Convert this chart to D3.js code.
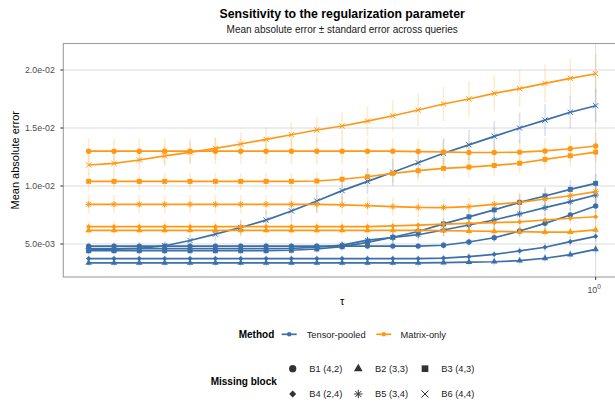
<!DOCTYPE html>
<html>
<head>
<meta charset="utf-8">
<script src="https://cdn.jsdelivr.net/npm/d3@7"></script>
<style>
  body { margin: 0; background: #ffffff; }
  text { font-family: "Liberation Sans", Arial, Helvetica, sans-serif; }
</style>
</head>
<body>
<svg id="chart" width="615" height="402"></svg>
<script>
// ---- data -------------------------------------------------------------
const tau = [0.1585, 0.1738, 0.1905, 0.2089, 0.2291, 0.2512, 0.2754, 0.3020, 0.3311, 0.3631,
             0.3981, 0.4365, 0.4786, 0.5248, 0.5754, 0.6310, 0.6918, 0.7586, 0.8318, 0.9120, 1.0];

const methods = ["Tensor-pooled", "Matrix-only"];
const blocks = ["B1 (4,2)", "B2 (3,3)", "B3 (4,3)", "B4 (2,4)", "B5 (3,4)", "B6 (4,4)"];

// mean absolute error, one row per missing block (B1..B6)
const tensorMean = [
  [0.00482,0.00482,0.00482,0.00482,0.00482,0.00482,0.00482,0.00482,0.00482,0.00482,0.00482,0.00482,0.00482,0.00482,0.00489,0.00517,0.00554,0.00612,0.00678,0.00750,0.00828],
  [0.00337,0.00337,0.00337,0.00337,0.00337,0.00337,0.00337,0.00337,0.00337,0.00337,0.00337,0.00337,0.00337,0.00337,0.00340,0.00344,0.00347,0.00356,0.00377,0.00408,0.00454],
  [0.00442,0.00442,0.00442,0.00442,0.00442,0.00442,0.00442,0.00442,0.00446,0.00457,0.00477,0.00514,0.00558,0.00608,0.00673,0.00734,0.00794,0.00859,0.00914,0.00971,0.01023],
  [0.00374,0.00374,0.00374,0.00374,0.00374,0.00374,0.00374,0.00374,0.00374,0.00374,0.00374,0.00374,0.00374,0.00374,0.00379,0.00391,0.00411,0.00440,0.00472,0.00520,0.00566],
  [0.00460,0.00460,0.00460,0.00460,0.00460,0.00460,0.00460,0.00460,0.00463,0.00472,0.00491,0.00533,0.00556,0.00580,0.00621,0.00664,0.00707,0.00759,0.00813,0.00865,0.00922],
  [0.00452,0.00455,0.00462,0.00485,0.00530,0.00585,0.00642,0.00706,0.00785,0.00870,0.00960,0.01040,0.01118,0.01200,0.01282,0.01355,0.01428,0.01500,0.01568,0.01636,0.01692]
];
const matrixMean = [
  [0.01300,0.01300,0.01300,0.01300,0.01300,0.01300,0.01300,0.01300,0.01300,0.01300,0.01300,0.01300,0.01300,0.01297,0.01294,0.01289,0.01289,0.01292,0.01302,0.01321,0.01345],
  [0.00618,0.00618,0.00618,0.00618,0.00618,0.00618,0.00618,0.00618,0.00618,0.00618,0.00618,0.00618,0.00618,0.00618,0.00615,0.00612,0.00609,0.00606,0.00603,0.00603,0.00621],
  [0.01040,0.01040,0.01040,0.01040,0.01040,0.01040,0.01040,0.01040,0.01040,0.01043,0.01058,0.01080,0.01109,0.01132,0.01152,0.01163,0.01177,0.01196,0.01230,0.01261,0.01292],
  [0.00649,0.00649,0.00649,0.00649,0.00649,0.00649,0.00649,0.00649,0.00649,0.00649,0.00649,0.00650,0.00656,0.00663,0.00672,0.00678,0.00684,0.00690,0.00707,0.00722,0.00735],
  [0.00842,0.00842,0.00842,0.00842,0.00842,0.00842,0.00842,0.00842,0.00842,0.00842,0.00838,0.00831,0.00823,0.00815,0.00814,0.00822,0.00842,0.00859,0.00888,0.00916,0.00951],
  [0.01181,0.01195,0.01224,0.01259,0.01290,0.01325,0.01362,0.01402,0.01442,0.01483,0.01517,0.01560,0.01606,0.01655,0.01707,0.01750,0.01799,0.01839,0.01885,0.01928,0.01968]
];

// standard error across queries
const tensorSE = [
  [0.00030,0.00030,0.00030,0.00030,0.00030,0.00030,0.00030,0.00030,0.00030,0.00030,0.00030,0.00030,0.00031,0.00032,0.00034,0.00037,0.00041,0.00046,0.00051,0.00056,0.00062],
  [0.00030,0.00030,0.00030,0.00030,0.00030,0.00030,0.00030,0.00030,0.00030,0.00030,0.00030,0.00030,0.00030,0.00030,0.00031,0.00032,0.00033,0.00035,0.00037,0.00040,0.00044],
  [0.00032,0.00032,0.00032,0.00032,0.00032,0.00032,0.00032,0.00032,0.00033,0.00035,0.00038,0.00042,0.00047,0.00052,0.00057,0.00062,0.00067,0.00071,0.00075,0.00078,0.00081],
  [0.00030,0.00030,0.00030,0.00030,0.00030,0.00030,0.00030,0.00030,0.00030,0.00030,0.00030,0.00030,0.00030,0.00030,0.00031,0.00032,0.00034,0.00036,0.00039,0.00042,0.00046],
  [0.00032,0.00032,0.00032,0.00032,0.00032,0.00032,0.00032,0.00032,0.00033,0.00035,0.00038,0.00042,0.00046,0.00050,0.00055,0.00060,0.00064,0.00068,0.00072,0.00075,0.00078],
  [0.00035,0.00035,0.00036,0.00040,0.00048,0.00058,0.00068,0.00078,0.00088,0.00097,0.00105,0.00112,0.00118,0.00123,0.00127,0.00130,0.00132,0.00134,0.00136,0.00140,0.00145]
];
const matrixSE = [
  [0.00110,0.00110,0.00110,0.00110,0.00110,0.00110,0.00110,0.00110,0.00110,0.00110,0.00110,0.00110,0.00110,0.00110,0.00110,0.00110,0.00110,0.00111,0.00112,0.00113,0.00115],
  [0.00045,0.00045,0.00045,0.00045,0.00045,0.00045,0.00045,0.00045,0.00045,0.00045,0.00045,0.00045,0.00045,0.00045,0.00045,0.00045,0.00045,0.00045,0.00045,0.00046,0.00047],
  [0.00075,0.00075,0.00075,0.00075,0.00075,0.00075,0.00075,0.00075,0.00075,0.00076,0.00078,0.00080,0.00082,0.00084,0.00086,0.00087,0.00088,0.00089,0.00090,0.00091,0.00092],
  [0.00050,0.00050,0.00050,0.00050,0.00050,0.00050,0.00050,0.00050,0.00050,0.00050,0.00050,0.00050,0.00050,0.00050,0.00051,0.00051,0.00052,0.00052,0.00053,0.00054,0.00055],
  [0.00080,0.00080,0.00080,0.00080,0.00080,0.00080,0.00080,0.00080,0.00080,0.00080,0.00080,0.00080,0.00080,0.00080,0.00080,0.00081,0.00083,0.00085,0.00088,0.00091,0.00094],
  [0.00085,0.00086,0.00088,0.00090,0.00093,0.00097,0.00100,0.00104,0.00108,0.00114,0.00120,0.00127,0.00135,0.00142,0.00148,0.00153,0.00157,0.00160,0.00163,0.00166,0.00169]
];

const yTicks = [0.005, 0.010, 0.015, 0.020];
const yTickLabels = ["5.0e-03", "1.0e-02", "1.5e-02", "2.0e-02"];
const xTicks = [1];
const xTickExponents = ["0"];

// ---- layout -----------------------------------------------------------
const W = 615, H = 402;
const panel = { left: 63.3, right: 621, top: 43.5, bottom: 277 };
const colors = { "Tensor-pooled": "#3B6FA8", "Matrix-only": "#FF9914" };
const shapeOf = ["circle", "triangle", "square", "diamond", "asterisk", "cross"];

const svg = d3.select("#chart");
svg.append("rect").attr("width", W).attr("height", H).attr("fill", "#ffffff");

// long-format records built from the arrays above
const series = [];
methods.forEach(m => {
  const means = m === "Tensor-pooled" ? tensorMean : matrixMean;
  const ses = m === "Tensor-pooled" ? tensorSE : matrixSE;
  blocks.forEach((b, bi) => {
    series.push({
      method: m, block: b, shape: shapeOf[bi],
      values: tau.map((t, i) => ({ tau: t, mean: means[bi][i], se: ses[bi][i] }))
    });
  });
});

// scales, with 5% padding on each side of the data range
const lx = d3.extent(tau).map(Math.log10);
const padX = (lx[1] - lx[0]) * 0.05;
const x = d3.scaleLog()
  .domain([Math.pow(10, lx[0] - padX), Math.pow(10, lx[1] + padX)])
  .range([panel.left, panel.right]);

const allVals = series.flatMap(s => s.values);
const yLo = d3.min(allVals, d => d.mean - d.se);
const yHi = d3.max(allVals, d => d.mean + d.se);
const padY = (yHi - yLo) * 0.05;
const y = d3.scaleLinear()
  .domain([yLo - padY, yHi + padY])
  .range([panel.bottom, panel.top]);

// panel clipping
svg.append("defs").append("clipPath").attr("id", "panel-clip")
  .append("rect")
  .attr("x", panel.left).attr("y", panel.top)
  .attr("width", panel.right - panel.left).attr("height", panel.bottom - panel.top);

// grid
const grid = svg.append("g");
grid.selectAll("line.hg").data(yTicks).join("line")
  .attr("x1", panel.left).attr("x2", panel.right)
  .attr("y1", d => y(d)).attr("y2", d => y(d))
  .attr("stroke", "#dcdcdc").attr("stroke-width", 1);
grid.selectAll("line.vg").data(xTicks).join("line")
  .attr("x1", d => x(d)).attr("x2", d => x(d))
  .attr("y1", panel.top).attr("y2", panel.bottom)
  .attr("stroke", "#dcdcdc").attr("stroke-width", 1);

const plot = svg.append("g").attr("clip-path", "url(#panel-clip)");

// error bars (mean ± se)
series.forEach(s => {
  plot.append("g").selectAll("line").data(s.values).join("line")
    .attr("x1", d => x(d.tau)).attr("x2", d => x(d.tau))
    .attr("y1", d => y(d.mean - d.se)).attr("y2", d => y(d.mean + d.se))
    .attr("stroke", colors[s.method]).attr("stroke-opacity", 0.2)
    .attr("stroke-width", 1.6);
});

// lines
const line = d3.line().x(d => x(d.tau)).y(d => y(d.mean));
series.forEach(s => {
  plot.append("path").datum(s.values)
    .attr("d", line)
    .attr("fill", "none")
    .attr("stroke", colors[s.method])
    .attr("stroke-width", 1.7)
    .attr("stroke-linejoin", "round");
});

// point glyphs
function drawShape(g, shape, cx, cy, size, color) {
  const s = size;
  if (shape === "circle") {
    g.append("circle").attr("cx", cx).attr("cy", cy).attr("r", s * 0.52).attr("fill", color);
  } else if (shape === "triangle") {
    const a = s * 1.25, h = a * Math.sqrt(3) / 2;
    g.append("path").attr("d",
      `M${cx},${cy - h * 2 / 3}L${cx + a / 2},${cy + h / 3}L${cx - a / 2},${cy + h / 3}Z`)
      .attr("fill", color);
  } else if (shape === "square") {
    const a = s * 0.95;
    g.append("rect").attr("x", cx - a / 2).attr("y", cy - a / 2)
      .attr("width", a).attr("height", a).attr("fill", color);
  } else if (shape === "diamond") {
    const d = s * 0.5;
    g.append("path").attr("d",
      `M${cx},${cy - d}L${cx + d},${cy}L${cx},${cy + d}L${cx - d},${cy}Z`)
      .attr("fill", color);
  } else if (shape === "asterisk") {
    const r = s * 0.6, q = r * 0.72;
    g.append("path").attr("d",
      `M${cx - r},${cy}L${cx + r},${cy}M${cx},${cy - r}L${cx},${cy + r}` +
      `M${cx - q},${cy - q}L${cx + q},${cy + q}M${cx - q},${cy + q}L${cx + q},${cy - q}`)
      .attr("stroke", color).attr("stroke-width", 1).attr("fill", "none");
  } else if (shape === "cross") {
    const q = s * 0.5;
    g.append("path").attr("d",
      `M${cx - q},${cy - q}L${cx + q},${cy + q}M${cx - q},${cy + q}L${cx + q},${cy - q}`)
      .attr("stroke", color).attr("stroke-width", 1).attr("fill", "none");
  }
}

series.forEach(s => {
  const g = plot.append("g");
  s.values.forEach(d => drawShape(g, s.shape, x(d.tau), y(d.mean), 5.2, colors[s.method]));
});

// panel border
svg.append("rect")
  .attr("x", panel.left).attr("y", panel.top)
  .attr("width", panel.right - panel.left).attr("height", panel.bottom - panel.top)
  .attr("fill", "none").attr("stroke", "#9e9e9e").attr("stroke-width", 1.1);

// y axis
const yAxis = svg.append("g");
yTicks.forEach((t, i) => {
  yAxis.append("line")
    .attr("x1", panel.left - 3).attr("x2", panel.left)
    .attr("y1", y(t)).attr("y2", y(t))
    .attr("stroke", "#333333").attr("stroke-width", 1);
  yAxis.append("text")
    .attr("x", panel.left - 8.5).attr("y", y(t) + 3.1)
    .attr("text-anchor", "end").attr("font-size", 8.8).attr("fill", "#4d4d4d")
    .text(yTickLabels[i]);
});

// x axis
const xAxis = svg.append("g");
xTicks.forEach((t, i) => {
  xAxis.append("line")
    .attr("x1", x(t)).attr("x2", x(t))
    .attr("y1", panel.bottom).attr("y2", panel.bottom + 3)
    .attr("stroke", "#333333").attr("stroke-width", 1);
  const lab = xAxis.append("text")
    .attr("x", x(t) - 1.5).attr("y", panel.bottom + 15.5)
    .attr("text-anchor", "middle").attr("font-size", 8.8).attr("fill", "#4d4d4d");
  lab.append("tspan").text("10");
  lab.append("tspan").attr("dy", -4).attr("font-size", 6.6).text(xTickExponents[i]);
});

// axis titles
svg.append("text")
  .attr("x", (panel.left + panel.right) / 2).attr("y", 304.5)
  .attr("text-anchor", "middle").attr("font-size", 11).attr("fill", "#000")
  .text("τ");
svg.append("text")
  .attr("transform", `translate(18.5,${(panel.top + panel.bottom) / 2}) rotate(-90)`)
  .attr("text-anchor", "middle").attr("font-size", 11).attr("fill", "#000")
  .text("Mean absolute error");

// titles
svg.append("text")
  .attr("x", (panel.left + panel.right) / 2).attr("y", 17.5)
  .attr("text-anchor", "middle").attr("font-size", 12.3).attr("font-weight", "bold")
  .attr("fill", "#000")
  .text("Sensitivity to the regularization parameter");
svg.append("text")
  .attr("x", (panel.left + panel.right) / 2).attr("y", 33.3)
  .attr("text-anchor", "middle").attr("font-size", 10).attr("fill", "#1a1a1a")
  .text("Mean absolute error \u00B1 standard error across queries");

// legend: method (colour)
const lg1 = svg.append("g");
const rowY1 = 334.3;
lg1.append("text").attr("x", 238.7).attr("y", rowY1 + 3.5)
  .attr("font-size", 10).attr("font-weight", "bold").text("Method");
const methodKeys = [{ m: methods[0], kx: 281.7, tx: 306.7 }, { m: methods[1], kx: 376.3, tx: 400.5 }];
methodKeys.forEach(k => {
  lg1.append("line").attr("x1", k.kx).attr("x2", k.kx + 15)
    .attr("y1", rowY1).attr("y2", rowY1)
    .attr("stroke", colors[k.m]).attr("stroke-width", 1.7);
  lg1.append("circle").attr("cx", k.kx + 7.5).attr("cy", rowY1).attr("r", 2.2)
    .attr("fill", colors[k.m]);
  lg1.append("text").attr("x", k.tx).attr("y", rowY1 + 3.3)
    .attr("font-size", 9.3).attr("fill", "#1a1a1a").text(k.m);
});

// legend: missing block (shape)
const lg2 = svg.append("g");
lg2.append("text").attr("x", 210.7).attr("y", 385.2)
  .attr("font-size", 10).attr("font-weight", "bold").text("Missing block");
const colKeyX = [292.7, 358.3, 425];
const colTextX = [309.3, 375, 441.3];
const rowKeyY = [368.7, 394];
blocks.forEach((b, bi) => {
  const r = Math.floor(bi / 3), c = bi % 3;
  drawShape(lg2, shapeOf[bi], colKeyX[c], rowKeyY[r], 7, "#333333");
  lg2.append("text").attr("x", colTextX[c]).attr("y", rowKeyY[r] + 3.3)
    .attr("font-size", 9.3).attr("fill", "#1a1a1a").text(b);
});
</script>
</body>
</html>
